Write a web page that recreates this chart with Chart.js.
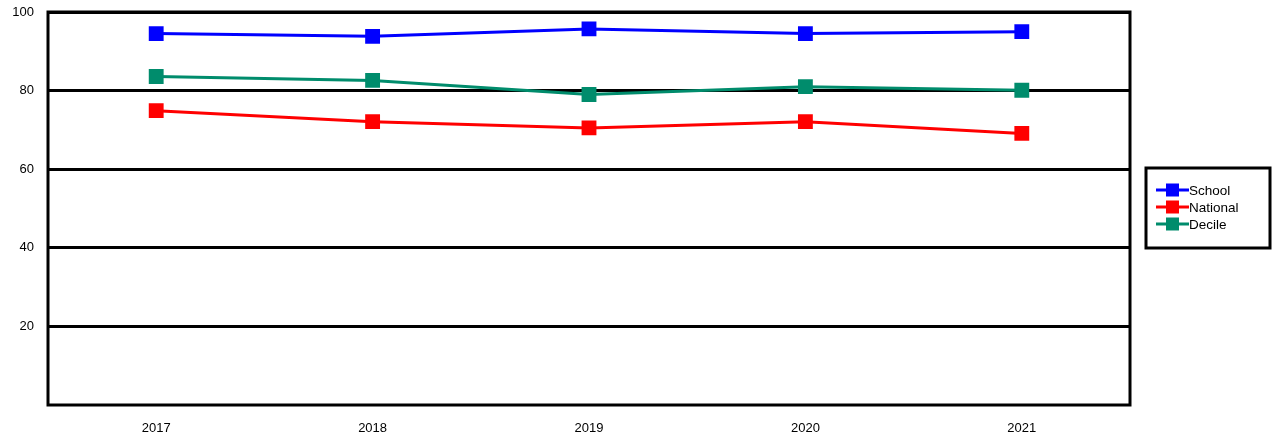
<!DOCTYPE html>
<html>
<head>
<meta charset="utf-8">
<script src="https://cdn.jsdelivr.net/npm/chart.js@4"></script>
<style>
  html, body { margin: 0; padding: 0; background: #fff; }
  #wrap { width: 1273px; height: 441px; }
</style>
</head>
<body>
<div id="wrap"><canvas id="c" width="1273" height="441"></canvas></div>
<script>
const years = ['2017', '2018', '2019', '2020', '2021']
const school = [94.5, 93.8, 95.7, 94.5, 95.0]
const national = [74.9, 72.1, 70.5, 72.1, 69.1]
const decile = [83.6, 82.6, 79.0, 81.0, 80.1]
const yTicks = [20, 40, 60, 80, 100]

const seriesNames = ['School', 'National', 'Decile']
const seriesColors = ['#0000ff', '#ff0000', '#008c6c']

const fontFamily = '"Liberation Sans", Arial, sans-serif'

// boxed legend on the right, drawn by hand
const boxLegend = {
  id: 'boxLegend',
  afterDraw(chart) {
    const ctx = chart.ctx
    ctx.save()
    ctx.lineWidth = 3
    ctx.strokeStyle = '#000'
    ctx.strokeRect(1146, 168, 124, 80)
    ctx.font = '13.5px ' + fontFamily
    ctx.textBaseline = 'middle'
    chart.data.datasets.forEach((ds, i) => {
      const y = 190 + i * 17
      ctx.strokeStyle = ds.borderColor
      ctx.lineWidth = 3
      ctx.beginPath()
      ctx.moveTo(1156, y)
      ctx.lineTo(1189, y)
      ctx.stroke()
      ctx.fillStyle = ds.borderColor
      ctx.fillRect(1166, y - 6.5, 13, 13)
      ctx.fillStyle = '#000'
      ctx.fillText(ds.label, 1189, y + 1)
    })
    ctx.restore()
  },
}

// thick frame around the plot area
const frame = {
  id: 'frame',
  afterDatasetsDraw(chart) {
    const { left, top, right, bottom } = chart.chartArea
    const ctx = chart.ctx
    ctx.save()
    ctx.lineWidth = 3
    ctx.strokeStyle = '#000'
    ctx.strokeRect(left, top, right - left, bottom - top)
    ctx.restore()
  },
}

const makeSet = (label, data, color) => ({
  label,
  data,
  borderColor: color,
  backgroundColor: color,
  borderWidth: 3,
  pointStyle: 'rect',
  pointRadius: 10.5,
  pointHoverRadius: 10.5,
  pointBorderWidth: 0,
  tension: 0,
})

new Chart(document.getElementById('c'), {
  type: 'line',
  data: {
    labels: years,
    datasets: [
      makeSet(seriesNames[0], school, seriesColors[0]),
      makeSet(seriesNames[1], national, seriesColors[1]),
      makeSet(seriesNames[2], decile, seriesColors[2]),
    ],
  },
  options: {
    responsive: false,
    animation: false,
    layout: { padding: { top: 12, right: 143, left: 0, bottom: 0 } },
    plugins: {
      legend: { display: false },
      tooltip: { enabled: false },
    },
    scales: {
      x: {
        offset: true,
        grid: { display: false, drawTicks: false },
        border: { display: false },
        ticks: {
          color: '#000',
          padding: 16,
          font: { family: fontFamily, size: 13 },
        },
        afterFit: s => {
          s.height = 36
          s.paddingLeft = 0
          s.paddingRight = 0
        },
      },
      y: {
        min: 0,
        max: 100,
        afterBuildTicks: s => { s.ticks = yTicks.map(v => ({ value: v })) },
        grid: { color: '#000', lineWidth: 3, drawTicks: false },
        border: { display: false },
        ticks: {
          color: '#000',
          padding: 14,
          font: { family: fontFamily, size: 13 },
        },
        afterFit: s => {
          s.width = 48
          s.paddingTop = 0
          s.paddingBottom = 0
        },
      },
    },
  },
  plugins: [frame, boxLegend],
})
</script>
</body>
</html>
